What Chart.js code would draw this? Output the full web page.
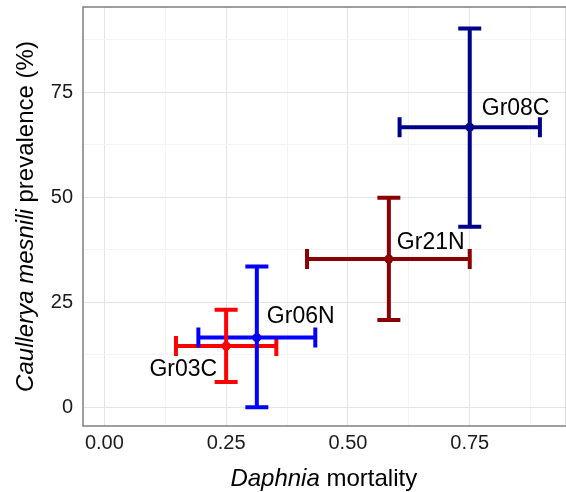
<!DOCTYPE html>
<html>
<head>
<meta charset="utf-8">
<script src="https://cdn.jsdelivr.net/npm/chart.js@4/dist/chart.umd.min.js"></script>
<style>
  html, body { margin: 0; padding: 0; background: #fff; overflow: hidden; }
  /* the original panel runs off the right edge, so the canvas is a bit wider than the window */
  #wrap { width: 571px; height: 492px; position: relative; }
</style>
</head>
<body>
<div id="wrap"><canvas id="chart"></canvas></div>
<script>
// Data
const groups = ['Gr03C', 'Gr06N', 'Gr21N', 'Gr08C'];
const mortality = [0.250, 0.313, 0.584, 0.750];
const mortalityLow = [0.147, 0.193, 0.416, 0.606];
const mortalityHigh = [0.353, 0.433, 0.750, 0.894];
const prevalence = [14.6, 16.6, 35.3, 66.7];
const prevalenceLow = [6.0, 0.0, 20.8, 43.0];
const prevalenceHigh = [23.2, 33.5, 49.9, 90.2];
const xTicks = [0, 0.25, 0.5, 0.75];
const yTicks = [0, 25, 50, 75];

const colors = ['#ff0000', '#0000ff', '#8b0000', '#00008b'];
const FONT = "'Liberation Sans', Arial, sans-serif";

// label placement relative to each point (pixels, like ggrepel put them)
const labelPlace = [
    { dx: -9, dy: 30, align: 'right' },
    { dx: 10, dy: -15, align: 'left' },
    { dx: 8, dy: -10, align: 'left' },
    { dx: 12, dy: -12, align: 'left' }
];

const isMajor = (v, step) => Math.abs(v / step - Math.round(v / step)) < 1e-6;

// keep the panel exactly where ggplot put it: no extra overflow padding
function noOverflow(s) {
    s.paddingTop = 0;
    s.paddingBottom = 0;
    s.paddingLeft = 0;
    s.paddingRight = 0;
}

const errorBars = {
    id: 'errorBars',
    beforeDatasetsDraw(chart) {
        const { ctx, chartArea, scales: { x, y } } = chart;

        // panel border
        ctx.save();
        ctx.strokeStyle = '#7f7f7f';
        ctx.lineWidth = 1.5;
        ctx.strokeRect(chartArea.left, chartArea.top, chartArea.right - chartArea.left, chartArea.bottom - chartArea.top);

        ctx.lineWidth = 4;
        ctx.lineCap = 'butt';
        // horizontal bars first
        groups.forEach((g, i) => {
            const py = y.getPixelForValue(prevalence[i]);
            const x0 = x.getPixelForValue(mortalityLow[i]);
            const x1 = x.getPixelForValue(mortalityHigh[i]);
            ctx.strokeStyle = colors[i];
            ctx.beginPath();
            ctx.moveTo(x0, py); ctx.lineTo(x1, py);
            ctx.moveTo(x0, py - 10); ctx.lineTo(x0, py + 10);
            ctx.moveTo(x1, py - 10); ctx.lineTo(x1, py + 10);
            ctx.stroke();
        });
        // then vertical bars
        groups.forEach((g, i) => {
            const px = x.getPixelForValue(mortality[i]);
            const y0 = y.getPixelForValue(prevalenceLow[i]);
            const y1 = y.getPixelForValue(prevalenceHigh[i]);
            ctx.strokeStyle = colors[i];
            ctx.beginPath();
            ctx.moveTo(px, y0); ctx.lineTo(px, y1);
            ctx.moveTo(px - 11.5, y0); ctx.lineTo(px + 11.5, y0);
            ctx.moveTo(px - 11.5, y1); ctx.lineTo(px + 11.5, y1);
            ctx.stroke();
        });
        ctx.restore();
    },
    afterDatasetsDraw(chart) {
        const { ctx, scales: { x, y } } = chart;
        ctx.save();
        ctx.font = `23px ${FONT}`;
        ctx.fillStyle = '#000';
        ctx.textBaseline = 'alphabetic';
        groups.forEach((g, i) => {
            const p = labelPlace[i];
            ctx.textAlign = p.align;
            ctx.fillText(g, x.getPixelForValue(mortality[i]) + p.dx, y.getPixelForValue(prevalence[i]) + p.dy);
        });
        ctx.restore();
    }
};

// draw a title made of italic / upright pieces, centred on (cx, cy)
function drawMixed(ctx, parts, cx, cy, rotate) {
    ctx.save();
    ctx.translate(cx, cy);
    if (rotate) ctx.rotate(-Math.PI / 2);
    ctx.fillStyle = '#000';
    ctx.textBaseline = 'alphabetic';
    ctx.textAlign = 'left';
    let total = 0;
    parts.forEach(p => {
        ctx.font = `${p.italic ? 'italic ' : ''}24px ${FONT}`;
        p.w = ctx.measureText(p.text).width;
        total += p.w;
    });
    let pos = -total / 2;
    parts.forEach(p => {
        ctx.font = `${p.italic ? 'italic ' : ''}24px ${FONT}`;
        ctx.fillText(p.text, pos, 0);
        pos += p.w;
    });
    ctx.restore();
}

const axisTitles = {
    id: 'axisTitles',
    afterDraw(chart) {
        const { ctx, chartArea } = chart;
        const midX = (chartArea.left + chartArea.right) / 2;
        const midY = (chartArea.top + chartArea.bottom) / 2;
        drawMixed(ctx, [{ text: 'Daphnia', italic: true }, { text: ' mortality', italic: false }], midX - 1, 486, false);
        drawMixed(ctx, [{ text: 'Caullerya mesnili', italic: true }, { text: ' prevalence (%)', italic: false }], 32.5, midY, true);
    }
};

new Chart(document.getElementById('chart'), {
    type: 'scatter',
    data: {
        datasets: [{
            data: groups.map((g, i) => ({ x: mortality[i], y: prevalence[i] })),
            pointRadius: 4.5,
            pointBackgroundColor: colors,
            pointBorderColor: colors,
            pointBorderWidth: 0
        }]
    },
    options: {
        responsive: true,
        maintainAspectRatio: false,
        animation: false,
        layout: { padding: { left: 0, top: 7, right: 0, bottom: 0 } },
        plugins: {
            legend: { display: false },
            tooltip: { enabled: false }
        },
        scales: {
            x: {
                type: 'linear',
                min: -0.0438,
                max: 0.9486,
                afterFit: s => { s.height = 66; noOverflow(s); },
                border: { display: false },
                grid: {
                    drawTicks: false,
                    lineWidth: 1,
                    color: c => isMajor(c.tick.value, 0.25) ? '#e4e4e4' : '#f4f4f4'
                },
                ticks: {
                    stepSize: 0.125,
                    includeBounds: false,
                    autoSkip: false,
                    maxRotation: 0,
                    padding: 5,
                    color: '#1a1a1a',
                    font: { family: FONT, size: 20 },
                    callback: v => xTicks.some(t => Math.abs(t - v) < 1e-6) ? v.toFixed(2) : ''
                }
            },
            y: {
                type: 'linear',
                min: -4.45,
                max: 95.3,
                afterFit: s => { s.width = 83; noOverflow(s); },
                border: { display: false },
                grid: {
                    drawTicks: false,
                    lineWidth: 1,
                    color: c => isMajor(c.tick.value, 25) ? '#e4e4e4' : '#f4f4f4'
                },
                ticks: {
                    stepSize: 12.5,
                    includeBounds: false,
                    autoSkip: false,
                    padding: 10,
                    color: '#1a1a1a',
                    font: { family: FONT, size: 20 },
                    callback: v => yTicks.some(t => Math.abs(t - v) < 1e-6) ? String(v) : ''
                }
            }
        }
    },
    plugins: [errorBars, axisTitles]
});
</script>
</body>
</html>
